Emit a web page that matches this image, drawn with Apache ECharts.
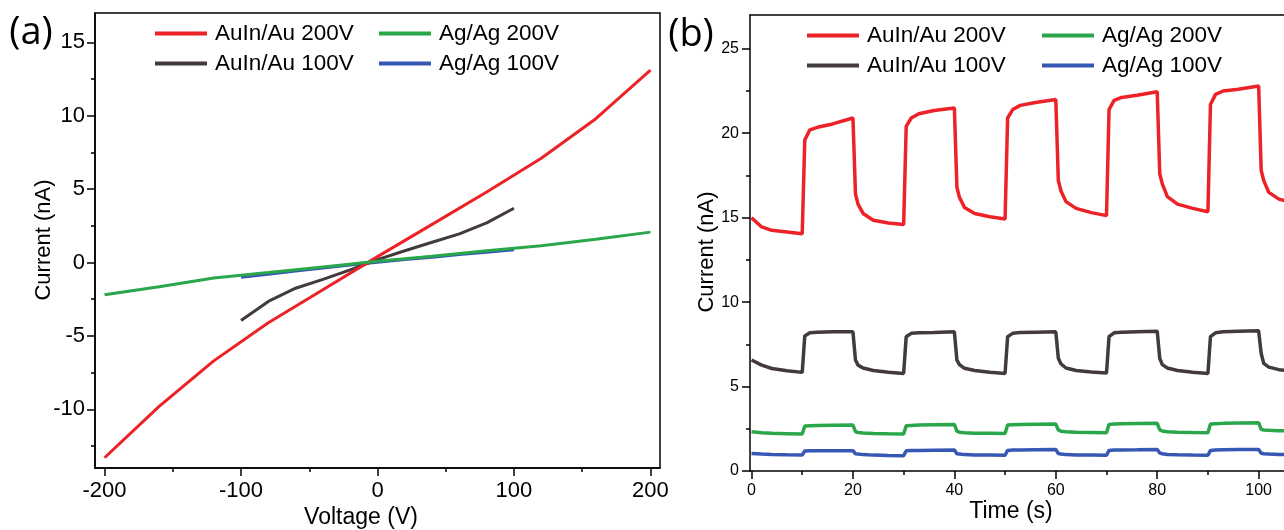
<!DOCTYPE html>
<html lang="en">
<head>
<meta charset="UTF-8">
<title>I-V and I-t curves</title>
<script src="https://cdn.jsdelivr.net/npm/echarts@6.0.0/dist/echarts.min.js"></script>
<style>
  html, body { margin: 0; padding: 0; background: #fff; }
</style>
</head>
<body>
<div id="main" style="width:1284px;height:530px;"></div>
<script type="text/javascript">
// ---- data: panel (a), current vs voltage ----
const voltWide = [-200, -160, -120, -80, -40, 0, 40, 80, 120, 160, 200];
const voltNarrow = [-100, -80, -60, -40, -20, 0, 20, 40, 60, 80, 100];
const ivAuIn200 = [-13.3, -9.8, -6.7, -4.1, -1.85, 0.4, 2.6, 4.8, 7.1, 9.8, 13.1];
const ivAg200 = [-2.2, -1.65, -1.05, -0.68, -0.3, 0.08, 0.42, 0.8, 1.15, 1.58, 2.07];
const ivAuIn100 = [-3.95, -2.65, -1.75, -1.15, -0.5, 0.2, 0.8, 1.38, 1.95, 2.7, 3.7];
const ivAg100 = [-1.0, -0.8, -0.58, -0.38, -0.17, 0.02, 0.2, 0.36, 0.54, 0.7, 0.87];

// ---- data: panel (b), current vs time ----
const timeS = [0, 2, 4, 7, 10,
  10.5, 11.5, 13, 16, 20,
  20.5, 21, 22, 24, 27, 30,
  30.5, 31.5, 33, 36, 40,
  40.5, 41, 42, 44, 47, 50,
  50.5, 51.5, 53, 56, 60,
  60.5, 61, 62, 64, 67, 70,
  70.5, 71.5, 73, 76, 80,
  80.5, 81, 82, 84, 87, 90,
  90.5, 91.5, 93, 96, 100,
  100.5, 101, 102, 104, 107];
const itAuIn200 = [15.0, 14.45, 14.25, 14.15, 14.05,
  19.6, 20.2, 20.35, 20.55, 20.9,
  16.4, 15.8, 15.25, 14.85, 14.68, 14.6,
  20.4, 20.9, 21.15, 21.35, 21.5,
  16.8, 16.2, 15.6, 15.25, 15.05, 14.92,
  20.9, 21.4, 21.65, 21.82, 22.0,
  17.2, 16.6, 15.95, 15.55, 15.3, 15.12,
  21.4, 21.95, 22.12, 22.25, 22.45,
  17.6, 17.0, 16.25, 15.8, 15.55, 15.35,
  21.7, 22.3, 22.5, 22.6, 22.8,
  17.8, 17.2, 16.5, 16.1, 15.85];
const itAuIn100 = [6.57, 6.27, 6.07, 5.94, 5.84,
  8.0, 8.18, 8.22, 8.24, 8.24,
  6.57, 6.27, 6.1, 5.95, 5.85, 5.78,
  7.95, 8.15, 8.18, 8.2, 8.24,
  6.57, 6.3, 6.08, 5.95, 5.85, 5.78,
  7.95, 8.15, 8.2, 8.22, 8.24,
  6.67, 6.35, 6.1, 5.95, 5.86, 5.8,
  7.95, 8.18, 8.22, 8.25, 8.28,
  6.67, 6.3, 6.1, 5.95, 5.85, 5.78,
  7.95, 8.18, 8.24, 8.27, 8.3,
  6.96, 6.37, 6.15, 6.0, 5.9];
const itAg200 = [2.33, 2.27, 2.23, 2.21, 2.19,
  2.66, 2.68, 2.7, 2.71, 2.72,
  2.33, 2.28, 2.25, 2.22, 2.2, 2.19,
  2.68, 2.7, 2.72, 2.74, 2.76,
  2.36, 2.3, 2.27, 2.24, 2.23, 2.22,
  2.72, 2.74, 2.76, 2.77, 2.78,
  2.43, 2.36, 2.32, 2.29, 2.28, 2.27,
  2.76, 2.78, 2.8, 2.81, 2.82,
  2.43, 2.37, 2.33, 2.3, 2.28, 2.27,
  2.78, 2.8, 2.82, 2.84, 2.86,
  2.47, 2.43, 2.41, 2.39, 2.38];
const itAg100 = [1.04, 1.0, 0.98, 0.96, 0.95,
  1.19, 1.2, 1.2, 1.2, 1.2,
  1.02, 1.0, 0.97, 0.94, 0.92, 0.91,
  1.2, 1.21, 1.22, 1.23, 1.24,
  1.02, 1.0, 0.97, 0.95, 0.94, 0.93,
  1.22, 1.24, 1.25, 1.26, 1.27,
  1.04, 1.0, 0.97, 0.95, 0.94, 0.93,
  1.22, 1.24, 1.25, 1.26, 1.28,
  1.06, 1.02, 0.98, 0.96, 0.94, 0.93,
  1.22, 1.24, 1.26, 1.27, 1.28,
  1.05, 1.02, 1.0, 0.98, 0.97];

// ---- ticks ----
const voltTicks = [-200, -100, 0, 100, 200];
const voltMinor = [-150, -50, 50, 150];
const ivTicks = [-10, -5, 0, 5, 10, 15];
const ivMinor = [-12.5, -7.5, -2.5, 2.5, 7.5, 12.5];
const timeTicks = [0, 20, 40, 60, 80, 100];
const timeMinor = [10, 30, 50, 70, 90];
const itTicks = [0, 5, 10, 15, 20, 25];
const itMinor = [2.5, 7.5, 12.5, 17.5, 22.5];

const names = ['AuIn/Au 200V', 'Ag/Ag 200V', 'AuIn/Au 100V', 'Ag/Ag 100V'];
const colors = {
  'AuIn/Au 200V': '#ec2227',
  'Ag/Ag 200V': '#2aa64b',
  'AuIn/Au 100V': '#423a3b',
  'Ag/Ag 100V': '#3658b4'
};

const FONT = '"Liberation Sans", Arial, sans-serif';
const zip = (xs, ys) => xs.map((x, i) => [x, ys[i]]);

function majorAxis(gridIndex, pos, min, max, ticks, fontSize, margin) {
  return {
    type: 'value', gridIndex, position: pos, min, max,
    axisLine: { onZero: false, lineStyle: { color: '#000', width: 1.5 } },
    axisTick: { customValues: ticks, length: 8, lineStyle: { color: '#000', width: 1.5 } },
    axisLabel: { customValues: ticks, color: '#000', fontSize, fontFamily: FONT, margin },
    splitLine: { show: false }
  };
}
// extra axis on the same grid: short minor ticks, or just a frame line
function plainAxis(gridIndex, pos, min, max, ticks, showLine) {
  return {
    type: 'value', gridIndex, position: pos, offset: 0, min, max,
    axisLine: { show: !!showLine, onZero: false, lineStyle: { color: '#000', width: 1.5 } },
    axisTick: { show: !!ticks, customValues: ticks || [], length: 4, lineStyle: { color: '#000', width: 1.5 } },
    axisLabel: { show: false },
    splitLine: { show: false }
  };
}
function line(name, xi, data, width) {
  return {
    type: 'line', name, xAxisIndex: xi, yAxisIndex: xi, data,
    symbol: 'none', animation: false,
    lineStyle: { color: colors[name], width },
    itemStyle: { color: colors[name] }
  };
}
function legendCol(left, top, data) {
  return {
    left, top, orient: 'vertical', data, selectedMode: false, padding: 0,
    icon: 'rect', itemWidth: 52, itemHeight: 4, itemGap: 7,
    textStyle: { color: '#000', fontSize: 22.5, lineHeight: 22, fontFamily: FONT, padding: [0, 0, 0, 3] }
  };
}
function title(text, x, y, size, rot, family) {
  return {
    type: 'text', x, y, rotation: rot || 0,
    style: {
      text, fill: '#000', fontSize: size, fontFamily: family || FONT,
      align: 'center', verticalAlign: 'middle'
    }
  };
}

const chart = echarts.init(document.getElementById('main'));
chart.setOption({
  animation: false,
  backgroundColor: '#fff',
  grid: [
    { left: 95, top: 13, width: 565, height: 455, show: true, borderColor: '#000', borderWidth: 1.5 },
    // panel (b) runs off the right edge of the picture, so no right frame line
    { left: 750, top: 15, right: 0, height: 456 }
  ],
  xAxis: [
    majorAxis(0, 'bottom', -207, 207, voltTicks, 22, 12),
    plainAxis(0, 'bottom', -207, 207, voltMinor),
    majorAxis(1, 'bottom', -0.3, 105, timeTicks, 16, 12),
    plainAxis(1, 'bottom', -0.3, 105, timeMinor),
    plainAxis(1, 'top', -0.3, 105, null, true)
  ],
  yAxis: [
    majorAxis(0, 'left', -14, 17, ivTicks, 22, 10),
    plainAxis(0, 'left', -14, 17, ivMinor),
    majorAxis(1, 'left', 0, 27, itTicks, 16, 11),
    plainAxis(1, 'left', 0, 27, itMinor)
  ],
  legend: [
    legendCol(155, 22, [names[0], names[2]]),
    legendCol(379, 22, [names[1], names[3]]),
    legendCol(807, 24, [names[0], names[2]]),
    legendCol(1042, 24, [names[1], names[3]])
  ],
  series: [
    line('Ag/Ag 100V', 0, zip(voltNarrow, ivAg100), 3),
    line('AuIn/Au 100V', 0, zip(voltNarrow, ivAuIn100), 3),
    line('AuIn/Au 200V', 0, zip(voltWide, ivAuIn200), 3),
    line('Ag/Ag 200V', 0, zip(voltWide, ivAg200), 3),
    line('AuIn/Au 200V', 2, zip(timeS, itAuIn200), 3.5),
    line('AuIn/Au 100V', 2, zip(timeS, itAuIn100), 3.5),
    line('Ag/Ag 200V', 2, zip(timeS, itAg200), 3.5),
    line('Ag/Ag 100V', 2, zip(timeS, itAg100), 3.5)
  ],
  graphic: [
    title('(a)', 31, 33, 38, 0, '"Open Sans", sans-serif'),
    title('(b)', 691, 35, 38, 0, '"Open Sans", sans-serif'),
    title('Voltage (V)', 361, 518, 23),
    title('Current (nA)', 44, 240, 22, Math.PI / 2),
    title('Time (s)', 1011, 512, 23),
    title('Current (nA)', 707, 252, 22, Math.PI / 2)
  ]
});
</script>
</body>
</html>
